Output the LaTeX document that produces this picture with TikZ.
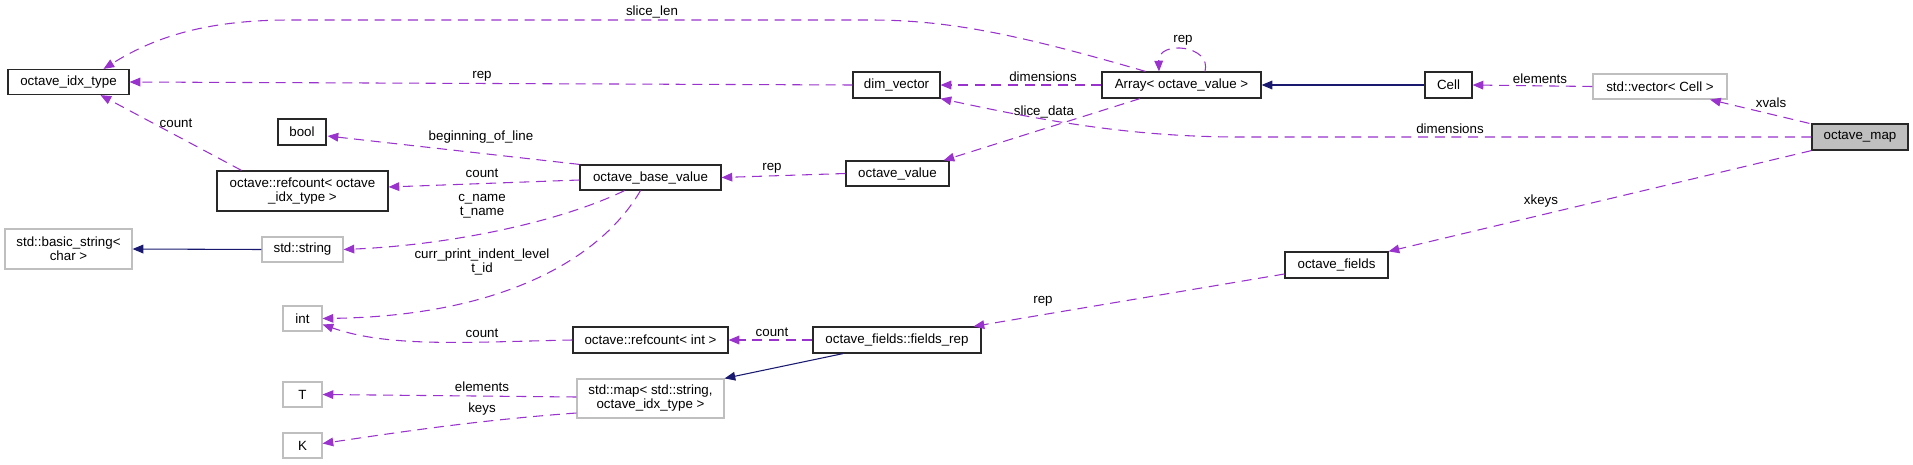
\documentclass[tikz,border=0pt]{standalone}
\usepackage{fontspec}
\setmainfont{Liberation Sans}
\usetikzlibrary{arrows.meta,calc}
\definecolor{dxpurple}{RGB}{154,50,205}
\definecolor{dxnavy}{RGB}{25,25,112}
\definecolor{dxgrey}{RGB}{191,191,191}
\definecolor{dxframe}{RGB}{40,40,40}
\newcommand{\dxfont}{\fontsize{10}{10.5}\selectfont}
\tikzset{
  dxbox/.style  ={draw=dxframe,line width=0.9pt,inner sep=0pt,align=center,font=\dxfont,text=black},
  cbox/.style   ={dxbox},
  gbox/.style   ={dxbox,draw=dxgrey},
  mbox/.style   ={dxbox,fill=dxgrey},
  bsz/.style 2 args={minimum width=#1*0.75pt,minimum height=#2*0.75pt},
  dxline/.style ={line width=0.8pt},
  dxtip/.style  ={-{Triangle[length=8pt,width=6.5pt]}},
  uedge/.style  ={dxline,dxtip,dxpurple,dash pattern=on 7.5pt off 5pt},
  iedge/.style  ={dxline,dxtip,dxnavy},
  elab/.style   ={inner sep=0pt,font=\dxfont,align=center,text=black},
}
\newcommand{\elabel}[4]{\node[elab] (#1) at (#2,#3) {#4};}

\begin{document}
\begin{tikzpicture}[x=0.75pt,y=-0.75pt]
  \useasboundingbox (0,0) rectangle (1913,464);
  % classes
  \node[cbox,bsz={121}{25}] (idx)   at (68.5,82)    {octave\_idx\_type};
  \node[cbox,bsz={48}{26}]  (bool)  at (302,132)    {bool};
  \node[cbox,bsz={171}{40}] (rcidx) at (302.5,191)  {octave::refcount< octave\\\_idx\_type >};
  \node[gbox,bsz={127}{40}] (bstr)  at (68.5,249)   {std::basic\_string<\\char >};
  \node[gbox,bsz={81}{25}]  (str)   at (302.5,249.5){std::string};
  \node[gbox,bsz={39}{25}]  (int)   at (302.5,318.5){int};
  \node[gbox,bsz={39}{25}]  (tyT)   at (302.5,394.5){T};
  \node[gbox,bsz={39}{25}]  (tyK)   at (302.5,445.5){K};
  \node[cbox,bsz={141}{25}] (obv)   at (650.5,177.5){octave\_base\_value};
  \node[cbox,bsz={155}{26}] (rcint) at (650.5,340)  {octave::refcount< int >};
  \node[gbox,bsz={147}{39}] (smap)  at (650.5,398.5){std::map< std::string,\\octave\_idx\_type >};
  \node[cbox,bsz={87}{26}]  (dimv)  at (896.5,85)   {dim\_vector};
  \node[cbox,bsz={103}{25}] (oval)  at (897.5,173.5){octave\_value};
  \node[cbox,bsz={168}{26}] (frep)  at (897,340)    {octave\_fields::fields\_rep};
  \node[cbox,bsz={159}{26}] (arr)   at (1181.5,85)  {Array< octave\_value >};
  \node[cbox,bsz={103}{26}] (ofld)  at (1336.5,265) {octave\_fields};
  \node[cbox,bsz={47}{26}]  (cell)  at (1448.5,85)  {Cell};
  \node[gbox,bsz={134}{25}] (svec)  at (1660,86.5)  {std::vector< Cell >};
  \node[mbox,bsz={96}{26}]  (omap)  at (1860,137)   {octave\_map};
  % usage edges
  \draw[uedge] ($(arr.north)+(-36,0)$) .. controls (1020,35) and (950,20) .. (870,20)
               -- (290,20) .. controls (200,20) and (150,40) .. ($(idx.north)+(35,0)$);
  \draw[uedge] (dimv.west) -- (idx.east);
  \draw[uedge] ($(rcidx.north)+(-61,0)$) -- ($(idx.south)+(32,0)$);
  \draw[uedge] (obv.north west) -- ($(bool.east)+(1,4)$);
  \draw[uedge] ($(obv.west)+(0,2.5)$) -- ($(rcidx.east)+(0,-4)$);
  \draw[uedge] ($(obv.south)+(-26,0)$) .. controls (560,222) and (450,245) .. (str.east);
  \draw[uedge] ($(obv.south)+(-10,0)$) .. controls (600,260) and (500,316) .. (int.east);
  \draw[uedge] (rcint.west) .. controls (470,342) and (390,348) .. ($(int.east)+(0,6)$);
  \draw[uedge] ($(smap.west)+(0,-1.5)$) -- (tyT.east);
  \draw[uedge] ($(smap.west)+(0,14.5)$) .. controls (480,420) and (400,432) .. ($(tyK.east)+(0,-2)$);
  \draw[uedge] (oval.west) -- (obv.east);
  \draw[uedge] (arr.west) -- (dimv.east);
  \draw[uedge] ($(arr.south)+(-41.5,0)$) -- ($(oval.north east)+(-6,0)$);
  \draw[uedge] ($(arr.north)+(23.5,0)$) .. controls (1212,45) and (1158,40) .. ($(arr.north)+(-22.5,0)$);
  \draw[uedge] (svec.west) -- (cell.east);
  \draw[uedge] ($(omap.north west)+(-2,0)$) -- ($(svec.south)+(50,0)$);
  \draw[uedge] (omap.west) -- (1240,137) .. controls (1130,137) and (1040,120) .. (dimv.south east);
  \draw[uedge] (omap.south west) -- (ofld.north east);
  \draw[uedge] ($(ofld.west)+(0,9)$) -- ($(frep.north east)+(-8,0)$);
  \draw[uedge] (frep.west) -- (rcint.east);
  % inheritance
  \draw[iedge] (cell.west) -- (arr.east);
  \draw[iedge] ($(frep.south)+(-54,0)$) -- (smap.north east);
  \draw[iedge] (str.west) -- (bstr.east);
  % edge labels
  \elabel{lslen}{652}{12}{slice\_len}
  \elabel{lrep1}{482}{76}{rep}
  \elabel{lcnt1}{176}{123}{count}
  \elabel{lbol}{481}{137}{beginning\_of\_line}
  \elabel{lcnt2}{482}{173}{count}
  \elabel{lname}{482}{206}{c\_name\\t\_name}
  \elabel{lind}{482}{262}{curr\_print\_indent\_level\\t\_id}
  \elabel{lcnt3}{482}{333}{count}
  \elabel{lelt1}{482}{387}{elements}
  \elabel{lkeys}{482}{409}{keys}
  \elabel{lrep2}{772}{168}{rep}
  \elabel{ldim1}{1043}{77}{dimensions}
  \elabel{lsdat}{1044}{112}{slice\_data}
  \elabel{lrep3}{1183}{40}{rep}
  \elabel{lelt2}{1540}{79}{elements}
  \elabel{lxval}{1771}{103}{xvals}
  \elabel{ldim2}{1450}{129}{dimensions}
  \elabel{lxkey}{1541}{201}{xkeys}
  \elabel{lrep4}{1043}{301}{rep}
  \elabel{lcnt4}{772}{332}{count}
\end{tikzpicture}
\end{document}
